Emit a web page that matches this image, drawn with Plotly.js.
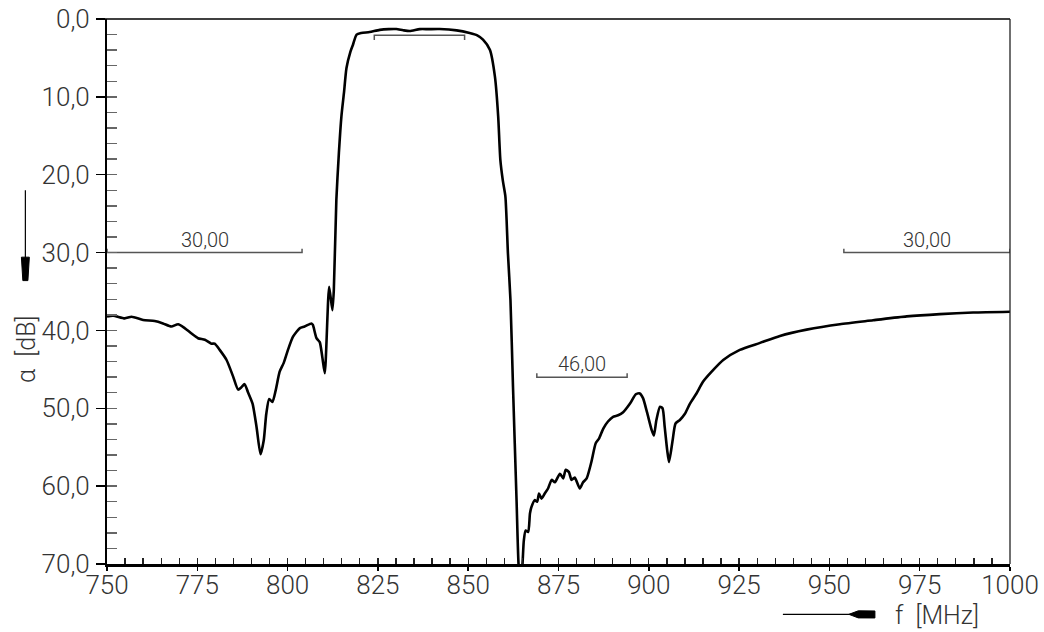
<!DOCTYPE html>
<html>
<head>
<meta charset="utf-8">
<script src="https://cdn.plot.ly/plotly-3.0.1.min.js"></script>
<style>
  html, body { margin: 0; padding: 0; background: #fff; }
  #chart { width: 1044px; height: 632px; }
</style>
</head>
<body>
<div id="chart"></div>
<script>
// Frequency (MHz) and attenuation (dB)
var freq = [750, 751.7, 754.9, 756.8, 760, 763.2, 765.5, 767.8, 769.7, 771.5, 773.4, 775.2, 777.1, 778.9, 779.8,
  781.2, 783.1, 784.9, 786.3, 787.2, 788.1, 789.0, 790.3, 791.4, 792.5, 793.4, 794.1, 794.9, 795.8, 796.7, 797.8,
  798.9, 800.1, 801.5, 803.4, 804.7, 806.6, 807.0, 808.0, 808.9, 809.6, 810.3, 811.5, 812.4, 812.8, 813.5, 814.2,
  814.9, 815.6, 816.3, 817.4, 818.1, 819.1, 820.4, 822.7, 825.5, 828, 830.1, 832, 833.8, 836.6, 839, 842.1, 846.8,
  850.4, 852.5, 854.1, 856.0, 857.4, 858.3, 858.9, 859.6, 860.3, 861.0, 861.7, 862.4, 863.4, 864.0, 864.5, 865.0,
  865.4, 865.9, 866.6, 867.1, 867.5, 868.4, 869.1, 869.6, 870.3, 871.2, 872.1, 873.1, 874.0, 875.4, 876.3, 877.0,
  877.9, 878.6, 879.5, 880.9, 881.8, 882.8, 884.1, 885.3, 886.2, 887.4, 888.7, 890.1, 891.5, 892.9, 894.8, 896.4,
  897.5, 898.4, 899.5, 900.8, 901.4, 902.1, 903.1, 903.8, 904.4, 905.1, 905.6, 906.6, 907.4, 908.6, 910.0, 911.4,
  913.2, 915.0, 917.4, 920.6, 925.2, 930.8, 936.3, 943.7, 952.9, 962.1, 971.4, 980.6, 989.8, 1000];
var atten = [38.2, 38.1, 38.45, 38.25, 38.65, 38.8, 39.1, 39.5, 39.2, 39.7, 40.4, 41.0, 41.2, 41.7, 41.7,
  42.5, 43.8, 45.9, 47.6, 47.3, 46.9, 47.9, 49.4, 52.4, 55.9, 54.1, 50.7, 48.8, 49.2, 47.7, 45.3,
  44.2, 42.5, 40.8, 39.7, 39.5, 39.1, 39.3, 41.0, 41.5, 43.4, 45.5, 34.4, 37.4, 34.8, 23.2, 17.2,
  12.5, 9.5, 6.3, 4.2, 3.3, 2.0, 1.8, 1.67, 1.4, 1.3, 1.29, 1.45, 1.55, 1.3, 1.3, 1.29, 1.46,
  1.8, 2.1, 2.66, 3.95, 7.4, 12.5, 18.1, 20.8, 22.8, 30.1, 36.1, 47.2, 62.0, 70.5, 72.0, 70.2,
  67.0, 65.7, 65.9, 63.5, 62.7, 61.8, 62.0, 60.95, 61.6, 60.95, 60.3, 59.2, 59.5, 58.4, 59.0, 57.9,
  58.2, 59.2, 58.9, 60.3, 59.5, 59.0, 56.9, 54.5, 53.9, 52.6, 51.7, 51.1, 50.9, 50.5, 49.4, 48.2,
  48.1, 48.7, 50.5, 52.8, 53.5, 51.5, 49.8, 50.0, 52.4, 55.4, 56.9, 54.1, 51.95, 51.5, 50.7, 49.4,
  48.1, 46.6, 45.3, 43.8, 42.5, 41.6, 40.7, 39.9, 39.2, 38.7, 38.2, 37.9, 37.7, 37.6];

// Limit / marker lines
var limitFrom  = [750, 954, 869, 824];
var limitTo    = [804, 1000, 894, 849];
var limitLevel = [30, 30, 46, 2.1];
var limitLabel = ['30,00', '30,00', '46,00', ''];

// Axis settings
var xRange = [750, 1000];
var yRange = [70, 0];
var xMajor = 25, xMinor = 5;
var yMajor = 10, yMinor = 2;

var FONT = 'Roboto, "DejaVu Sans", sans-serif';
var TXT = '#333';

var traces = [{
  type: 'scatter', mode: 'lines', x: freq, y: atten,
  line: { color: '#000', width: 2.6, shape: 'spline', smoothing: 0.6 },
  hoverinfo: 'skip'
}];

var annotations = [];
for (var i = 0; i < limitFrom.length; i++) {
  var bracket = limitLabel[i] === '';
  var d = bracket ? 0.6 : -0.5;
  traces.push({
    type: 'scatter', mode: 'lines',
    x: [limitFrom[i], limitFrom[i], limitTo[i], limitTo[i]],
    y: [limitLevel[i] + d, limitLevel[i], limitLevel[i], limitLevel[i] + d],
    line: { color: '#555', width: 1.5 },
    cliponaxis: false,
    hoverinfo: 'skip'
  });
  if (!bracket) {
    annotations.push({
      x: (limitFrom[i] + limitTo[i]) / 2, y: limitLevel[i], xref: 'x', yref: 'y',
      text: limitLabel[i], showarrow: false, xanchor: 'center', yanchor: 'bottom', yshift: -1,
      font: { family: FONT, size: 20, color: TXT, weight: 300 }
    });
  }
}
// invisible trace on the overlay axes so they are drawn
traces.push({ type: 'scatter', mode: 'markers', x: [freq[0]], y: [atten[0]],
  xaxis: 'x2', yaxis: 'y2', marker: { opacity: 0 }, hoverinfo: 'skip' });

annotations.push({
  xref: 'paper', yref: 'paper', x: -0.089, y: 0.394, xanchor: 'center', yanchor: 'middle',
  textangle: -90, text: 'α  [dB]', showarrow: false,
  font: { family: FONT, size: 25, color: TXT, weight: 300 }
});
annotations.push({
  xref: 'paper', yref: 'paper', x: 0.919, y: -0.0945, xanchor: 'center', yanchor: 'middle',
  text: 'f  [MHz]', showarrow: false,
  font: { family: FONT, size: 25, color: TXT, weight: 300 }
});

var shapes = [
  // top frame line
  { type: 'line', xref: 'paper', yref: 'paper', x0: -0.01, x1: 1, y0: 1, y1: 1,
    line: { color: '#000', width: 1.5 } },
  // right frame line
  { type: 'line', xref: 'paper', yref: 'paper', x0: 1, x1: 1, y0: 0, y1: 1,
    line: { color: '#222', width: 1.3 } },
  // y arrow
  { type: 'line', xref: 'paper', yref: 'paper', x0: -0.0904, x1: -0.0904, y0: 0.686, y1: 0.561,
    line: { color: '#000', width: 1.2 } },
  { type: 'path', xref: 'paper', yref: 'paper',
    path: 'M -0.0948 0.563 L -0.0860 0.563 L -0.0876 0.520 L -0.0932 0.520 Z',
    fillcolor: '#000', line: { color: '#000', width: 1 } },
  // x arrow
  { type: 'line', xref: 'paper', yref: 'paper', x0: 0.7485, x1: 0.826, y0: -0.0924, y1: -0.0924,
    line: { color: '#000', width: 1.2 } },
  { type: 'path', xref: 'paper', yref: 'paper',
    path: 'M 0.8216 -0.0924 L 0.8320 -0.0859 L 0.8504 -0.0862 L 0.8504 -0.0990 L 0.8320 -0.0989 Z',
    fillcolor: '#000', line: { color: '#000', width: 1 } }
];

var tickFont = { family: FONT, size: 26, color: TXT, weight: 300 };

var layout = {
  width: 1044, height: 632,
  margin: { l: 107, r: 34, t: 19, b: 68 },
  paper_bgcolor: '#fff', plot_bgcolor: '#fff',
  showlegend: false,
  separators: ',.',
  xaxis: {
    range: xRange, tick0: xRange[0], dtick: xMajor,
    ticks: 'outside', ticklen: 4, tickwidth: 1.5, tickcolor: '#000',
    ticklabelstandoff: -8,
    showline: true, linewidth: 2.5, linecolor: '#000',
    showgrid: false, zeroline: false, tickfont: tickFont, fixedrange: true
  },
  xaxis2: {
    overlaying: 'x', anchor: 'y', side: 'bottom',
    range: xRange, tick0: xRange[0], dtick: xMinor,
    ticks: 'inside', ticklen: 6, tickwidth: 1.3, tickcolor: '#222',
    showticklabels: false, showline: false, showgrid: false, zeroline: false, fixedrange: true
  },
  yaxis: {
    range: yRange, tick0: 0, dtick: yMajor, tickformat: '.1f',
    ticks: 'outside', ticklen: 9, tickwidth: 1.5, tickcolor: '#000',
    ticklabelstandoff: 1,
    showline: true, linewidth: 2, linecolor: '#000',
    showgrid: false, zeroline: false, tickfont: tickFont, fixedrange: true
  },
  yaxis2: {
    overlaying: 'y', anchor: 'x', side: 'left',
    range: yRange, tick0: 0, dtick: yMinor,
    ticks: 'inside', ticklen: 10, tickwidth: 1.5, tickcolor: '#666',
    showticklabels: false, showline: false, showgrid: false, zeroline: false, fixedrange: true
  },
  annotations: annotations,
  shapes: shapes
};

Plotly.newPlot('chart', traces, layout, { staticPlot: true, displayModeBar: false });
</script>
</body>
</html>
